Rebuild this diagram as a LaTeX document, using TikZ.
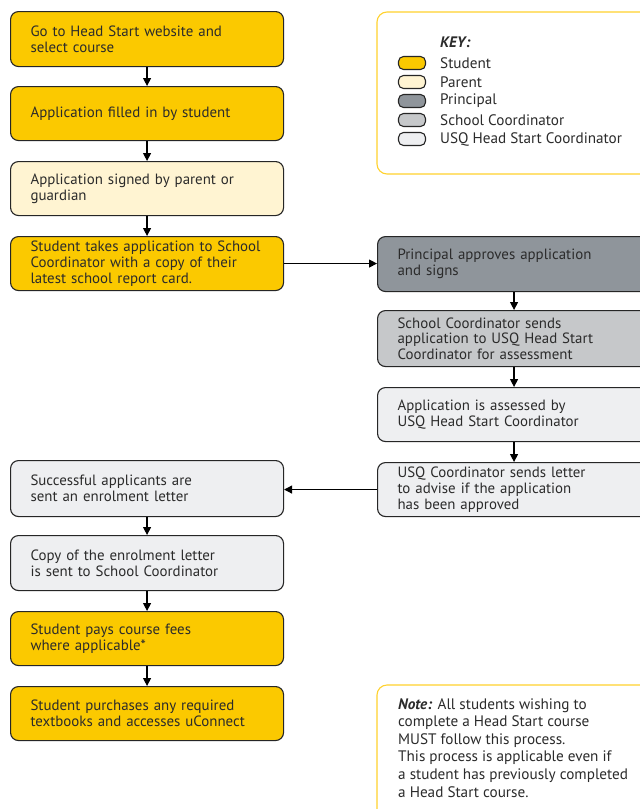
\documentclass[tikz,border=0pt]{standalone}
\usepackage{fontspec}
\setmainfont{PT Sans}
\usetikzlibrary{arrows.meta}
\definecolor{stud}{HTML}{FBC900}
\definecolor{par}{HTML}{FFF4D2}
\definecolor{prin}{HTML}{8F959B}
\definecolor{scoord}{HTML}{C6C8CA}
\definecolor{usq}{HTML}{EEEFF1}
\definecolor{txt}{HTML}{2B2B2B}
\definecolor{keyline}{HTML}{FFD22E}
\tikzset{
  stepbox/.style={draw=black!85, line width=1.1pt, rounded corners=8pt,
    anchor=north west, minimum width=273pt, text width=233pt, inner xsep=20pt,
    inner ysep=0pt, align=left, text=txt,
    font=\fontsize{14.9pt}{15.7pt}\selectfont},
  arr/.style={draw=black, line width=1.2pt, -{Triangle[width=8pt,length=8pt]}},
  swatch/.style={draw=black!85, line width=1.1pt, rounded corners=5pt, fill=#1,
    minimum width=27pt, minimum height=13pt, inner sep=0pt},
  keytxt/.style={anchor=west, text=txt, inner sep=0pt, font=\fontsize{15.2pt}{15.7pt}\selectfont},
  infobox/.style={draw=keyline, line width=1.1pt, rounded corners=10pt}
}
\begin{document}
\begin{tikzpicture}[x=1pt,y=-1pt]
\useasboundingbox (0,0) rectangle (640,809);
\clip (0,0) rectangle (640,809);
\fill[white] (0,0) rectangle (640,809);
% key box
\draw[infobox] (377,12) rectangle (660,174);
\node[keytxt, font=\fontsize{15.2pt}{15.7pt}\selectfont\bfseries\itshape] (keyt) at (440,42) {KEY:};
\node[swatch=stud] (s1) at (412,63) {};
\node[swatch=par] (s2) at (412,82) {};
\node[swatch=prin] (s3) at (412,101) {};
\node[swatch=scoord] (s4) at (412,120) {};
\node[swatch=usq] (s5) at (412,139) {};
\node[keytxt] (k1) at (440,63) {Student};
\node[keytxt] (k2) at (440,82) {Parent};
\node[keytxt] (k3) at (440,101) {Principal};
\node[keytxt] (k4) at (440,120) {School Coordinator};
\node[keytxt] (k5) at (440,139) {USQ Head Start Coordinator};
% left column
\node[stepbox, fill=stud, minimum height=55pt] (b1) at (10,11) {Go to Head Start website and\\select course};
\node[stepbox, fill=stud, minimum height=54pt] (b2) at (10,86) {Application filled in by student};
\node[stepbox, fill=par, minimum height=54pt] (b3) at (10,161) {Application signed by parent or\\guardian};
\node[stepbox, fill=stud, minimum height=54pt] (b4) at (10,236) {Student takes application to School\\Coordinator with a copy of their\\latest school report card.};
% right column
\node[stepbox, fill=prin, minimum height=55pt] (r1) at (377,236) {Principal approves application\\and signs};
\node[stepbox, fill=scoord, minimum height=56pt] (r2) at (377,310) {School Coordinator sends\\application to USQ Head Start\\Coordinator for assessment};
\node[stepbox, fill=usq, minimum height=54pt] (r3) at (377,387) {Application is assessed by\\USQ Head Start Coordinator};
\node[stepbox, fill=usq, minimum height=54pt] (r4) at (377,462) {USQ Coordinator sends letter\\to advise if the application\\has been approved};
% lower left
\node[stepbox, fill=usq, minimum height=56pt] (b5) at (10,460) {Successful applicants are\\sent an enrolment letter};
\node[stepbox, fill=usq, minimum height=55pt] (b6) at (10,535) {Copy of the enrolment letter\\is sent to School Coordinator};
\node[stepbox, fill=stud, minimum height=54pt] (b7) at (10,611) {Student pays course fees\\where applicable*};
\node[stepbox, fill=stud, minimum height=54pt] (b8) at (10,686) {Student purchases any required\\textbooks and accesses uConnect};
% arrows
\draw[arr] (b1.south) -- (b2.north);
\draw[arr] (b2.south) -- (b3.north);
\draw[arr] (b3.south) -- (b4.north);
\draw[arr] (b4.east) -- (b4.east -| r1.west);
\draw[arr] (r1.south) -- (r2.north);
\draw[arr] (r2.south) -- (r3.north);
\draw[arr] (r3.south) -- (r4.north);
\draw[arr] (r4.west) -- (r4.west -| b5.east);
\draw[arr] (b5.south) -- (b6.north);
\draw[arr] (b6.south) -- (b7.north);
\draw[arr] (b7.south) -- (b8.north);
% note box
\draw[infobox] (377,685) rectangle (660,830);
\node[anchor=north west, align=left, text=txt, inner sep=0pt,
  font=\fontsize{15.2pt}{17.6pt}\selectfont] (note) at (398,698)
  {\textbf{\textit{Note:}} All students wishing to\\complete a Head Start course\\MUST follow this process.\\This process is applicable even if\\a student has previously completed\\a Head Start course.};
\end{tikzpicture}
\end{document}
